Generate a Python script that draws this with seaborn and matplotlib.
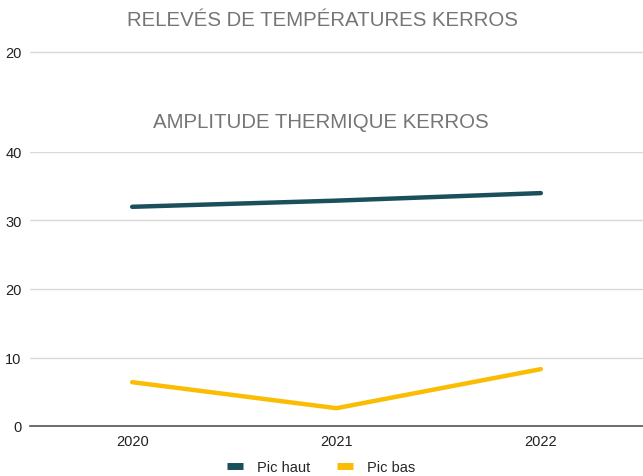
import matplotlib
matplotlib.use("Agg")
import matplotlib.pyplot as plt
import seaborn as sns
import pandas as pd
from matplotlib.lines import Line2D

years = ["2020", "2021", "2022"]
pic_haut = [32.0, 32.9, 34.0]
pic_bas = [6.4, 2.6, 8.3]
series_names = ["Pic haut", "Pic bas"]
colors = ["#1b4f5b", "#fbbc04"]
y_ticks = [0, 10, 20, 30, 40]
ghost_tick = [20]
title_top = "RELEVÉS DE TEMPÉRATURES KERROS"
title_main = "AMPLITUDE THERMIQUE KERROS"

df = pd.DataFrame({
    "Année": years * 2,
    "Valeur": pic_haut + pic_bas,
    "Série": [series_names[0]] * 3 + [series_names[1]] * 3,
})

sns.set_theme(style="white")
plt.rcParams["font.family"] = ["Liberation Sans", "DejaVu Sans"]

W, H = 643, 477
fig = plt.figure(figsize=(W / 100, H / 100), dpi=100)

ax = fig.add_axes([30 / W, (H - 427) / H, 613 / W, 274 / H])
sns.lineplot(data=df, x="Année", y="Valeur", hue="Série", palette=colors,
             linewidth=3.2, ax=ax, legend=False, sort=False)
ax.set_xlim(-0.5, 2.5)
ax.set_ylim(0, 40)
ax.set_yticks(y_ticks)
ax.set_xlabel("")
ax.set_ylabel("")
ax.grid(axis="y", color="#d9d9d9", linewidth=1)
ax.set_axisbelow(True)
for s in ["top", "right", "left"]:
    ax.spines[s].set_visible(False)
ax.spines["bottom"].set_color("#555555")
ax.spines["bottom"].set_linewidth(1.2)
ax.tick_params(axis="both", length=0, labelsize=10.5, colors="#222222")
ax.tick_params(axis="y", pad=6)
ax.tick_params(axis="x", pad=6)

# ghost gridline from the chart underneath
ax2 = fig.add_axes([30 / W, (H - 60) / H, 613 / W, 14 / H])
ax2.set_ylim(13, 27)
ax2.set_yticks(ghost_tick)
ax2.set_xticks([])
ax2.grid(axis="y", color="#d9d9d9", linewidth=1)
for s in ax2.spines.values():
    s.set_visible(False)
ax2.patch.set_alpha(0)
ax2.tick_params(axis="y", length=0, labelsize=10.5, colors="#222222", pad=6)

fig.text(322 / W, 1 - 21 / H, title_top, ha="center", va="center",
         fontsize=14.7, color="#757575")
fig.text(321 / W, 1 - 122 / H, title_main, ha="center", va="center",
         fontsize=14.7, color="#757575")

handles = [Line2D([], [], color=c, linewidth=5, solid_capstyle="butt") for c in colors]
fig.legend(handles, series_names, loc="center", bbox_to_anchor=(321 / W, 1 - 468 / H),
           ncol=2, frameon=False, fontsize=10.5, handlelength=1.1,
           columnspacing=1.8, handletextpad=0.95)

fig.savefig("out.png", dpi=100, facecolor="white")
